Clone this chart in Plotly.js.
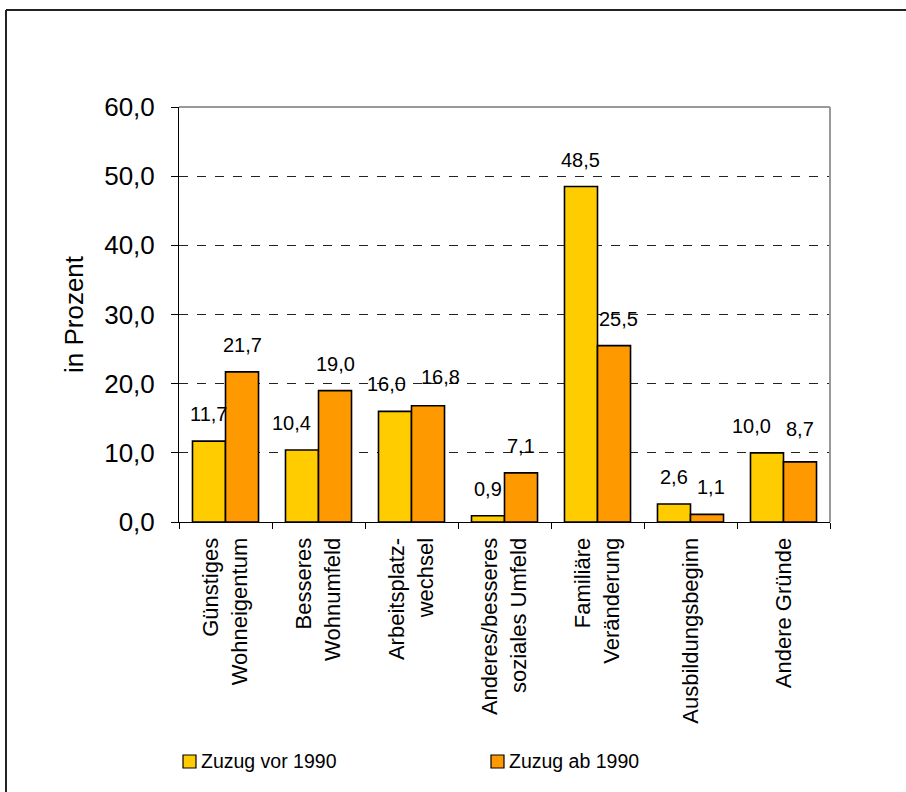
<!DOCTYPE html>
<html>
<head>
<meta charset="utf-8">
<script src="https://cdn.plot.ly/plotly-3.0.1.min.js"></script>
<style>
  html, body { margin: 0; padding: 0; background: #fff; overflow: hidden; }
  #chart { width: 906px; height: 792px; }
</style>
</head>
<body>
<div id="chart"></div>
<script>
const categories = [
  "Günstiges<br>Wohneigentum",
  "Besseres<br>Wohnumfeld",
  "Arbeitsplatz-<br>wechsel",
  "Anderes/besseres<br>soziales Umfeld",
  "Familiäre<br>Veränderung",
  "Ausbildungsbeginn",
  "Andere Gründe"
];
const seriesNames = ["Zuzug vor 1990", "Zuzug ab 1990"];
const vor1990 = [11.7, 10.4, 16.0, 0.9, 48.5, 2.6, 10.0];
const ab1990  = [21.7, 19.0, 16.8, 7.1, 25.5, 1.1, 8.7];
const yTicks = [0, 10, 20, 30, 40, 50, 60];

// layout-only nudges (px) of the value labels, as placed in the original
const labelNudgeX = [[0, -10, -8, 0, 0, 0, -15], [0, 0, 12, 0, 4, 4, 0]];
const labelNudgeY = [[0, 0, 0, 0, 0, 0, 0], [0, 0, 2, 0, 0, 0, 6]];

const colors = ["#FFCC00", "#FF9900"];
const fontFam = "Liberation Sans, Arial, sans-serif";

const M = { l: 179, r: 76, t: 107, b: 270 };
const W = 906, H = 792;
const pw = W - M.l - M.r, ph = H - M.t - M.b;
const px2x = px => (px - M.l) / pw;
const py2y = py => (H - M.b - py) / ph;

const traces = [vor1990, ab1990].map((vals, k) => ({
  type: "bar",
  name: seriesNames[k],
  x: categories,
  y: vals,
  marker: { color: colors[k], line: { color: "#000", width: 1.6 } },
  hoverinfo: "skip",
  showlegend: false
}));

const bargap = 0.29;
const half = (1 - bargap) / 4;
const annotations = [];
[vor1990, ab1990].forEach((vals, k) => {
  vals.forEach((v, i) => {
    annotations.push({
      x: i + (k === 0 ? -half : half),
      y: v,
      xref: "x", yref: "y",
      text: v.toFixed(1).replace(".", ","),
      showarrow: false,
      yanchor: "bottom",
      xshift: labelNudgeX[k][i],
      yshift: 14 + labelNudgeY[k][i],
      font: { family: fontFam, size: 20, color: "#000" }
    });
  });
});

// chart frame (top and left edges visible) and plot-area border (top/right)
const shapes = [
  { type: "line", xref: "paper", yref: "paper",
    x0: px2x(6), x1: px2x(6), y0: py2y(10), y1: py2y(800),
    line: { color: "#222", width: 2 }, layer: "above" },
  { type: "line", xref: "paper", yref: "paper",
    x0: px2x(6), x1: px2x(910), y0: py2y(10), y1: py2y(10),
    line: { color: "#222", width: 2 }, layer: "above" },
  { type: "line", xref: "paper", yref: "paper", x0: 0, x1: 1, y0: 1, y1: 1,
    line: { color: "#999", width: 2 }, layer: "above" },
  { type: "line", xref: "paper", yref: "paper", x0: 1, x1: 1, y0: 0, y1: 1,
    line: { color: "#999", width: 2 }, layer: "above" }
];

// custom legend (squares + text) placed under the chart
const legendX = [183, 491];
const legendY = 761;
seriesNames.forEach((name, k) => {
  shapes.push({
    type: "rect", xref: "paper", yref: "paper",
    x0: px2x(legendX[k]), x1: px2x(legendX[k] + 13),
    y0: py2y(legendY + 7), y1: py2y(legendY - 6),
    fillcolor: colors[k], line: { color: "#000", width: 1.2 }
  });
  annotations.push({
    xref: "paper", yref: "paper",
    x: px2x(legendX[k] + 16), y: py2y(legendY),
    xanchor: "left", yanchor: "middle",
    text: name, showarrow: false,
    font: { family: fontFam, size: 19.5, color: "#000" }
  });
});

const layout = {
  width: W, height: H,
  margin: M,
  paper_bgcolor: "#fff", plot_bgcolor: "#fff",
  separators: ",.",
  barmode: "group",
  bargap: bargap,
  bargroupgap: 0,
  showlegend: false,
  xaxis: {
    type: "category",
    automargin: false,
    tickangle: -90,
    tickson: "boundaries",
    ticks: "outside", ticklen: 6, tickcolor: "#000",
    showline: true, linecolor: "#000", linewidth: 1,
    showgrid: false,
    ticklabelstandoff: 6,
    tickfont: { family: fontFam, size: 22, color: "#000" },
    fixedrange: true
  },
  yaxis: {
    range: [0, 60],
    automargin: false,
    tickvals: yTicks,
    tickformat: ".1f",
    ticks: "outside", ticklen: 7, tickcolor: "#000",
    showline: true, linecolor: "#000", linewidth: 1,
    showgrid: true, gridcolor: "#222", gridwidth: 1, griddash: "dash",
    zeroline: false,
    ticklabelstandoff: 11,
    tickfont: { family: fontFam, size: 26, color: "#000" },
    title: { text: "in Prozent", standoff: 13, font: { family: fontFam, size: 26, color: "#000" } },
    fixedrange: true
  },
  annotations: annotations,
  shapes: shapes
};

Plotly.newPlot("chart", traces, layout, { displayModeBar: false, staticPlot: true });
</script>
</body>
</html>
